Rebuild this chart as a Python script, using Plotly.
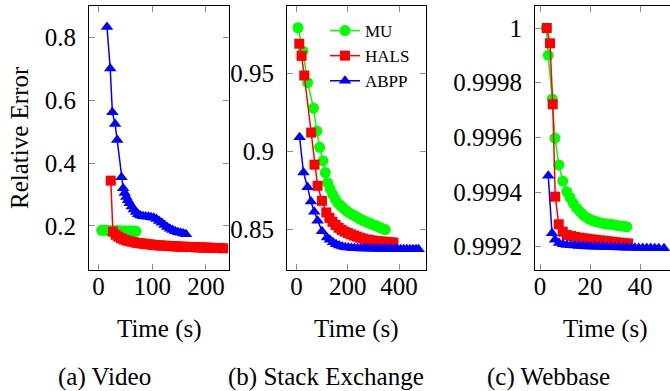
import plotly.graph_objects as go

# ---------------- data ----------------
# (a) Video
video_mu_t = [6, 10, 14, 18, 22, 26, 30, 34, 38, 42, 46, 50, 54, 58, 62, 66, 70]
video_mu_v = [0.186, 0.186, 0.186, 0.185, 0.185, 0.185, 0.185, 0.185, 0.185,
              0.184, 0.184, 0.184, 0.184, 0.184, 0.184, 0.184, 0.183]
video_hals_t = [23, 27, 32, 37, 42, 47, 52, 57, 62, 67, 72, 77, 82, 87, 92, 97, 102,
                107, 112, 117, 122, 127, 132, 137, 142, 147, 152, 157, 162, 167, 172,
                177, 182, 187, 192, 197, 202, 207, 212, 217, 222, 227, 232]
video_hals_v = [0.344, 0.182, 0.172, 0.166, 0.161, 0.157, 0.154, 0.152, 0.150, 0.148,
                0.146, 0.145, 0.144, 0.143, 0.142, 0.141, 0.140, 0.139, 0.138, 0.138,
                0.137, 0.137, 0.136, 0.136, 0.135, 0.135, 0.134, 0.134, 0.134, 0.133,
                0.133, 0.133, 0.132, 0.132, 0.132, 0.131, 0.131, 0.131, 0.130, 0.130,
                0.130, 0.130, 0.129]
video_abpp_t = [16, 22, 26, 31, 35, 43, 46, 49, 52, 55, 58, 62, 66, 70, 74, 78, 83, 88,
                93, 98, 103, 108, 113, 118, 123, 128, 133, 138, 143, 148, 153, 158, 163]
video_abpp_v = [0.832, 0.700, 0.561, 0.524, 0.473, 0.355, 0.320, 0.305, 0.292, 0.282,
                0.272, 0.262, 0.252, 0.244, 0.237, 0.233, 0.231, 0.230, 0.229, 0.228,
                0.226, 0.222, 0.216, 0.210, 0.203, 0.197, 0.191, 0.187, 0.183, 0.180,
                0.178, 0.176, 0.174]

# (b) Stack Exchange
se_mu_t = [5.5, 25, 43, 66, 79, 90, 103, 112, 121, 131, 141, 151, 161, 171, 181, 191,
           201, 211, 221, 231, 241, 251, 261, 271, 281, 291, 301, 311, 321, 331, 341, 346]
se_mu_v = [0.979, 0.964, 0.944, 0.9276, 0.913, 0.9026, 0.894, 0.8865, 0.880, 0.876,
           0.8725, 0.8695, 0.867, 0.8655, 0.864, 0.8625, 0.8613, 0.8602, 0.8593, 0.8584,
           0.8575, 0.8566, 0.8558, 0.855, 0.8543, 0.8537, 0.853, 0.8524, 0.8517, 0.851,
           0.8503, 0.850]
se_hals_t = [10.5, 19.5, 30, 57, 70, 82, 99, 116, 128, 140, 152, 164, 176, 188, 200, 212,
             224, 236, 248, 260, 272, 284, 296, 308, 320, 332, 344, 356, 368, 378]
se_hals_v = [0.9688, 0.961, 0.9485, 0.912, 0.8915, 0.878, 0.8684, 0.861, 0.8575, 0.855,
             0.853, 0.8512, 0.8498, 0.8487, 0.8478, 0.847, 0.8462, 0.8455, 0.8448, 0.8442,
             0.8437, 0.8433, 0.843, 0.8428, 0.8426, 0.8424, 0.8422, 0.842, 0.8418, 0.8417]
se_abpp_t = [11.8, 27, 43, 56, 69, 82, 99, 118.5, 130, 142, 154, 166, 178, 190, 202, 214,
             226, 238, 250, 262, 274, 286, 298, 310, 322, 334, 346, 358, 370, 382, 394,
             406, 418, 430, 442, 454, 466, 476]
se_abpp_v = [0.909, 0.8865, 0.877, 0.868, 0.8615, 0.8556, 0.849, 0.845, 0.8435, 0.842,
             0.8407, 0.8398, 0.8392, 0.8388, 0.8385, 0.8383, 0.8382, 0.8381, 0.8380,
             0.8380, 0.8379, 0.8379, 0.8378, 0.8378, 0.8377, 0.8377, 0.8377, 0.8376,
             0.8376, 0.8376, 0.8375, 0.8375, 0.8375, 0.8375, 0.8374, 0.8374, 0.8374, 0.8374]

# (c) Webbase
wb_mu_t = [2.5, 3.3, 4.9, 6.0, 7.5, 9.1, 10.7, 12, 13.3, 14.6, 16, 17.3, 18.6, 20, 21.3,
           22.7, 24, 25.4, 26.7, 28, 29.4, 30.7, 32, 33.4, 34.7]
wb_mu_v = [1.0, 0.99990, 0.99974, 0.999597, 0.999499, 0.99944, 0.999401, 0.99938,
           0.999359, 0.999342, 0.999328, 0.999316, 0.999307, 0.999300, 0.999295,
           0.999291, 0.999288, 0.999285, 0.999283, 0.999282, 0.999280, 0.999278,
           0.999276, 0.999275, 0.999273]
wb_hals_t = [2.7, 4.0, 5.1, 6.1, 7.5, 9.1, 10.7, 12.4, 14, 15.7, 17.3, 19, 20.6, 22.2,
             23.9, 25.5, 27.1, 28.8, 30.4, 32, 33.7, 35.3]
wb_hals_v = [1.0, 0.999944, 0.999721, 0.999383, 0.999282, 0.999255, 0.999243, 0.999239,
             0.999236, 0.999233, 0.999231, 0.999229, 0.999227, 0.999225, 0.999223,
             0.999222, 0.999220, 0.999218, 0.999216, 0.999215, 0.999213, 0.999212]
wb_abpp_t = [3.3, 4.8, 6.0, 7.6, 9.2, 10.7, 12.3, 13.9, 15.5, 17.1, 18.7, 20.3, 21.9,
             23.5, 25.1, 26.7, 28.3, 29.9, 31.5, 33.1, 34.7, 36.3, 37.9, 39.5, 41.1,
             42.7, 44.3, 45.9, 47.5, 49.6]
wb_abpp_v = [0.99946, 0.999249, 0.999225, 0.999214, 0.999209, 0.999206, 0.999205,
             0.999204, 0.999203, 0.999202, 0.999201, 0.999201, 0.999200, 0.999200,
             0.999199, 0.999199, 0.999198, 0.999198, 0.999197, 0.999197, 0.999196,
             0.999196, 0.999196, 0.999195, 0.999195, 0.999195, 0.999195, 0.999194,
             0.999194, 0.999194]

methods = ["MU", "HALS", "ABPP"]
colors = {"MU": "#00ff00", "HALS": "#ff0000", "ABPP": "#0000ff"}
symbols = {"MU": "circle", "HALS": "square", "ABPP": "triangle-up"}
msizes = {"MU": 11, "HALS": 10, "ABPP": 11}

panels = [
    {"MU": (video_mu_t, video_mu_v), "HALS": (video_hals_t, video_hals_v),
     "ABPP": (video_abpp_t, video_abpp_v)},
    {"MU": (se_mu_t, se_mu_v), "HALS": (se_hals_t, se_hals_v),
     "ABPP": (se_abpp_t, se_abpp_v)},
    {"MU": (wb_mu_t, wb_mu_v), "HALS": (wb_hals_t, wb_hals_v),
     "ABPP": (wb_abpp_t, wb_abpp_v)},
]

x_ticks = [[0, 100, 200], [0, 200, 400], [0, 20, 40]]
y_ticks = [[0.2, 0.4, 0.6, 0.8], [0.85, 0.9, 0.95],
           [0.9992, 0.9994, 0.9996, 0.9998, 1.0]]
y_ticktext = [["0.2", "0.4", "0.6", "0.8"], ["0.85", "0.9", "0.95"],
              ["0.9992", "0.9994", "0.9996", "0.9998", "1"]]
captions = ["(a) Video", "(b) Stack Exchange", "(c) Webbase"]
x_title = "Time (s)"
y_title = "Relative Error"

# ---------------- layout geometry ----------------
W, H = 670, 391
x_dom_px = [(89, 229), (287, 426), (535, 670)]
x_ranges = [[-17.5, 243], [-37.4, 505], [-2, 52]]
y_ranges = [[0.06, 0.899], [0.8242, 0.9929], [0.9991148, 1.0000805]]
y_top, y_bot = 6, 270

FONT = "Liberation Serif"
FS = 25
fig = go.Figure()

for i, pdata in enumerate(panels):
    xa = "x" if i == 0 else f"x{i+1}"
    ya = "y" if i == 0 else f"y{i+1}"
    for m in methods:
        t, v = pdata[m]
        fig.add_trace(go.Scatter(
            x=t, y=v, xaxis=xa, yaxis=ya, mode="lines+markers", name=m,
            showlegend=(i == 1),
            line=dict(color=colors[m], width=1.5),
            marker=dict(symbol=symbols[m], size=msizes[m], color=colors[m],
                        line=dict(width=0)),
        ))

axis_common = dict(showline=True, linecolor="black", linewidth=1,
                   ticks="inside", ticklen=6, tickcolor="#8c8c8c", tickwidth=1,
                   showgrid=False, zeroline=False,
                   tickfont=dict(family=FONT, size=FS, color="black"))

layout = dict(width=W, height=H, margin=dict(l=0, r=0, t=0, b=0),
              paper_bgcolor="white", plot_bgcolor="white", showlegend=True,
              font=dict(family=FONT),
              legend=dict(x=325 / W, y=1 - 13 / H, xanchor="left", yanchor="top",
                          bgcolor="rgba(0,0,0,0)", borderwidth=0,
                          font=dict(family=FONT, size=17, color="black"),
                          tracegroupgap=0))

for i in range(3):
    xk = "xaxis" if i == 0 else f"xaxis{i+1}"
    yk = "yaxis" if i == 0 else f"yaxis{i+1}"
    xa = "x" if i == 0 else f"x{i+1}"
    ya = "y" if i == 0 else f"y{i+1}"
    layout[xk] = dict(axis_common, domain=[x_dom_px[i][0] / W, x_dom_px[i][1] / W],
                      range=x_ranges[i], anchor=ya, tickvals=x_ticks[i],
                      mirror="ticks", ticklabelstandoff=-6)
    layout[yk] = dict(axis_common, domain=[1 - y_bot / H, 1 - y_top / H],
                      range=y_ranges[i], anchor=xa, tickvals=y_ticks[i],
                      ticktext=y_ticktext[i], mirror=("ticks" if i < 2 else False),
                      ticklabelstandoff=7)

annotations = []
time_cx = [159, 356.5, 605]
cap_cx = [104, 326, 548]
for i in range(3):
    annotations.append(dict(text=x_title, x=time_cx[i] / W, y=1 - 329 / H,
                            xref="paper", yref="paper", showarrow=False,
                            xanchor="center", yanchor="middle",
                            font=dict(family=FONT, size=FS, color="black")))
    annotations.append(dict(text=captions[i], x=cap_cx[i] / W, y=1 - 377 / H,
                            xref="paper", yref="paper", showarrow=False,
                            xanchor="center", yanchor="middle",
                            font=dict(family=FONT, size=FS, color="black")))
annotations.append(dict(text=y_title, x=19 / W, y=1 - 138 / H, xref="paper",
                        yref="paper", showarrow=False, textangle=-90,
                        xanchor="center", yanchor="middle",
                        font=dict(family=FONT, size=FS, color="black")))
layout["annotations"] = annotations

fig.update_layout(**layout)
fig.write_html("out.html")
